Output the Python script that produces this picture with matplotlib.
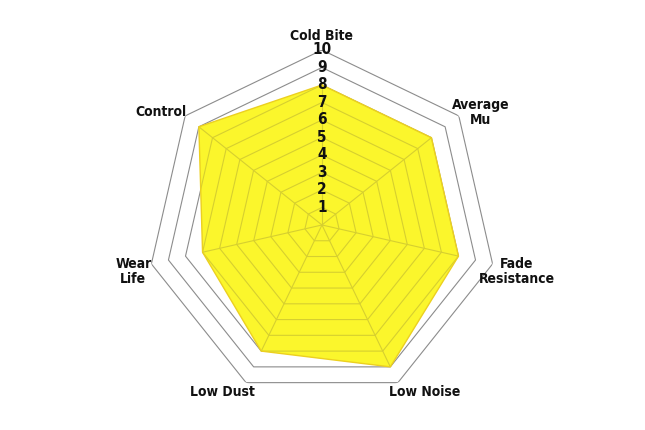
import numpy as np
import matplotlib
matplotlib.use("Agg")
import matplotlib.pyplot as plt

categories = ["Cold Bite", "Average\nMu", "Fade\nResistance", "Low Noise",
              "Low Dust", "Wear\nLife", "Control"]
values = [8, 8, 8, 9, 8, 7, 9]
scale_ticks = [1, 2, 3, 4, 5, 6, 7, 8, 9, 10]

label_offsets = [(0, 14), (22, 3), (24, -8), (27, -9), (-24, -9), (-18, -8), (-24, 4)]

font = ["DejaVu Sans", "Liberation Sans"]

n = len(categories)
angles = np.arange(n) * 2 * np.pi / n

fig = plt.figure(figsize=(6.45, 4.30), dpi=100)
ax = fig.add_axes([0.2279, 0.0698, 0.5426, 0.814], projection="polar")
ax.set_theta_zero_location("N")
ax.set_theta_direction(-1)
ax.set_ylim(0, 10)
ax.set_xticks([])
ax.set_yticks([])
ax.grid(False)
ax.spines["polar"].set_visible(False)
ax.patch.set_alpha(0)

closed = np.append(angles, angles[0])

# polygonal grid rings
for t in scale_ticks:
    ax.plot(closed, [t] * (n + 1), color="#8c8c8c", lw=0.8, zorder=1)

# filled series
vals = np.append(values, values[0])
poly = ax.fill(closed, vals, facecolor="#fbf62c", zorder=2)[0]

# grid rings and spokes seen through the filled area
for t in scale_ticks:
    ln, = ax.plot(closed, [t] * (n + 1), color="#d6cf30", lw=0.8, zorder=2.5)
    ln.set_clip_path(poly)
for a in angles:
    ln, = ax.plot([a, a], [0, 10], color="#d6cf30", lw=0.8, zorder=2.5)
    ln.set_clip_path(poly)

ax.plot(closed, vals, color="#ecd020", lw=1.0, zorder=3)

# scale numbers along the top axis
for t in scale_ticks:
    ax.text(0, t, str(t), ha="center", va="center", fontsize=11,
            fontweight="bold", fontstretch="condensed", family=font,
            color="#111111", zorder=4)

# category labels
for a, lab, off in zip(angles, categories, label_offsets):
    ax.annotate(lab, xy=(a, 10), xytext=off, textcoords="offset pixels",
                ha="center", va="center", fontsize=10, fontweight="bold",
                fontstretch="condensed", family=font, color="#111111",
                linespacing=1.1, annotation_clip=False)

fig.savefig("out.png", dpi=100)
